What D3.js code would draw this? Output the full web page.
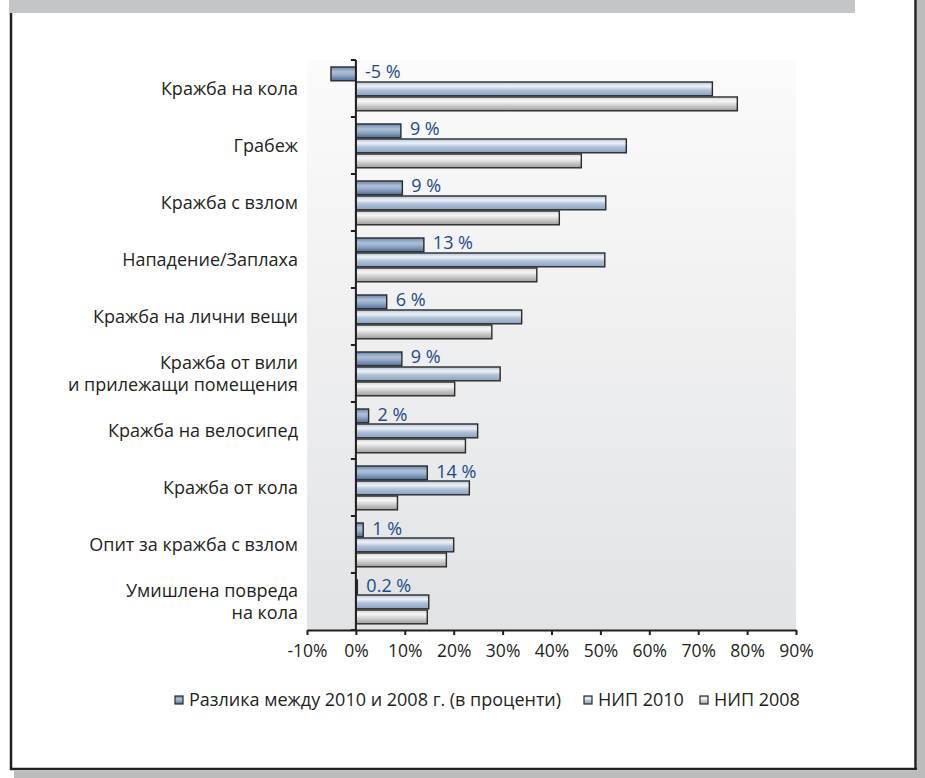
<!DOCTYPE html>
<html>
<head>
<meta charset="utf-8">
<script src="https://cdn.jsdelivr.net/npm/d3@7"></script>
<style>
  html, body { margin: 0; padding: 0; background: #ffffff; }
  svg { display: block; }
  text { font-family: "Open Sans", "Noto Sans", sans-serif; }
</style>
</head>
<body>
<svg id="chart" width="925" height="778"></svg>
<script>
// ---- data ----
const categories = [
  ["Кражба на кола"],
  ["Грабеж"],
  ["Кражба с взлом"],
  ["Нападение/Заплаха"],
  ["Кражба на лични вещи"],
  ["Кражба от вили", "и прилежащи помещения"],
  ["Кражба на велосипед"],
  ["Кражба от кола"],
  ["Опит за кражба с взлом"],
  ["Умишлена повреда", "на кола"]
];
const seriesNames = ["Разлика между 2010 и 2008 г. (в проценти)", "НИП 2010", "НИП 2008"];
const diffValues = [-5.1, 9.2, 9.5, 13.9, 6.3, 9.4, 2.6, 14.6, 1.5, 0.3];
const diffLabels = ["-5 %", "9 %", "9 %", "13 %", "6 %", "9 %", "2 %", "14 %", "1 %", "0.2 %"];
const nip2010 = [72.9, 55.3, 51.1, 50.9, 33.9, 29.5, 24.9, 23.2, 20.0, 14.9];
const nip2008 = [78.0, 46.1, 41.6, 37.0, 27.8, 20.2, 22.4, 8.5, 18.5, 14.6];
const xTicks = [-10, 0, 10, 20, 30, 40, 50, 60, 70, 80, 90];

// ---- layout ----
const svg = d3.select("#chart");
const plot = { left: 307, right: 796, top: 60, bottom: 630 };
const catKeys = categories.map((c, i) => i);

const x = d3.scaleLinear().domain([-10, 90]).range([plot.left, plot.right]);
const y = d3.scaleBand().domain(catKeys).range([plot.top, plot.bottom])
  .paddingInner(0.2105).paddingOuter(0.105);
const sub = d3.scaleBand().domain([0, 1, 2]).range([0, y.bandwidth()]);

const defs = svg.append("defs");
function grad(id, stops) {
  const g = defs.append("linearGradient").attr("id", id)
    .attr("x1", 0).attr("y1", 0).attr("x2", 0).attr("y2", 1);
  stops.forEach(s => g.append("stop").attr("offset", s[0]).attr("stop-color", s[1]));
}
grad("gDiff", [[0, "#6886ad"], [0.35, "#adc0d7"], [0.55, "#9bb0cb"], [1, "#4f6e97"]]);
grad("g2010", [[0, "#b3c4da"], [0.3, "#eef2f7"], [0.6, "#adc0d6"], [1, "#8aa3c2"]]);
grad("g2008", [[0, "#d3d3d3"], [0.3, "#f7f7f7"], [0.65, "#cacaca"], [1, "#9c9c9c"]]);
grad("gPlot", [[0, "#fbfbfb"], [1, "#e2e3e5"]]);
const fills = ["url(#gDiff)", "url(#g2010)", "url(#g2008)"];

// ---- frame ----
svg.append("rect").attr("x", 9).attr("y", 0).attr("width", 846).attr("height", 13).attr("fill", "#c4c5c7");
svg.append("rect").attr("x", 917).attr("y", 0).attr("width", 8).attr("height", 778).attr("fill", "#bcbcbc");
svg.append("rect").attr("x", 14).attr("y", 771).attr("width", 911).attr("height", 7).attr("fill", "#bcbcbc");
svg.append("line").attr("x1", 11).attr("x2", 11).attr("y1", 13).attr("y2", 770)
  .attr("stroke", "#231f20").attr("stroke-width", 2.5);
svg.append("line").attr("x1", 915.5).attr("x2", 915.5).attr("y1", 0).attr("y2", 770)
  .attr("stroke", "#231f20").attr("stroke-width", 2.5);
svg.append("line").attr("x1", 10).attr("x2", 917).attr("y1", 769).attr("y2", 769)
  .attr("stroke", "#231f20").attr("stroke-width", 2.5);

// ---- plot background ----
svg.append("rect").attr("x", plot.left).attr("y", plot.top)
  .attr("width", plot.right - plot.left).attr("height", plot.bottom - plot.top)
  .attr("fill", "url(#gPlot)");

// ---- bars ----
const seriesData = [diffValues, nip2010, nip2008];
const gBars = svg.append("g");
seriesData.forEach((vals, s) => {
  gBars.selectAll(null).data(vals).join("rect")
    .attr("x", d => x(Math.min(0, d)))
    .attr("y", (d, i) => y(i) + sub(s) + 1)
    .attr("width", d => Math.abs(x(d) - x(0)))
    .attr("height", sub.bandwidth() - 1.2)
    .attr("fill", fills[s])
    .attr("stroke", "#2a2a2a")
    .attr("stroke-width", 1.4);
});

// ---- diff labels ----
svg.append("g").selectAll("text").data(diffValues).join("text")
  .attr("x", d => x(Math.max(0, d)) + 9)
  .attr("y", (d, i) => y(i) + sub(0) + 12.5)
  .attr("fill", "#1b4a8a")
  .attr("font-size", 18)
  .text((d, i) => diffLabels[i]);

// ---- axes ----
const xAxis = d3.axisBottom(x).tickValues(xTicks).tickFormat(d => d + "%")
  .tickSize(5).tickSizeOuter(0).tickPadding(10);
const gx = svg.append("g").attr("transform", `translate(0,${plot.bottom})`).call(xAxis);
gx.select(".domain").attr("stroke", "#231f20").attr("stroke-width", 2);
gx.selectAll(".tick line").attr("stroke", "#231f20").attr("stroke-width", 2);
gx.selectAll(".tick text").attr("fill", "#231f20").attr("font-size", 17.5)
  .attr("font-family", "'Open Sans', sans-serif");

// y axis line at zero with category boundary ticks
const gy = svg.append("g");
gy.append("line").attr("x1", x(0)).attr("x2", x(0))
  .attr("y1", plot.top).attr("y2", plot.bottom)
  .attr("stroke", "#231f20").attr("stroke-width", 2);
const boundaries = d3.range(categories.length + 1).map(i => plot.top + i * y.step());
gy.selectAll(".bt").data(boundaries).join("line")
  .attr("x1", x(0) - 5).attr("x2", x(0))
  .attr("y1", d => d).attr("y2", d => d)
  .attr("stroke", "#231f20").attr("stroke-width", 2);

// category labels
const gl = svg.append("g");
categories.forEach((lines, i) => {
  const cy = y(i) + y.bandwidth() / 2;
  const lh = 22;
  const t = gl.append("text")
    .attr("text-anchor", "end")
    .attr("font-size", 18)
    .attr("fill", "#231f20");
  lines.forEach((ln, j) => {
    t.append("tspan")
      .attr("x", 298)
      .attr("y", cy + 6.5 + (j - (lines.length - 1) / 2) * lh)
      .text(ln);
  });
});

// ---- legend ----
const legendX = [175, 584, 700];
const lg = svg.append("g");
seriesNames.forEach((name, s) => {
  lg.append("rect").attr("x", legendX[s]).attr("y", 696)
    .attr("width", 8).attr("height", 8)
    .attr("fill", fills[s]).attr("stroke", "#2a2a2a").attr("stroke-width", 1.2);
  lg.append("text").attr("x", legendX[s] + 14).attr("y", 706)
    .attr("font-size", 18).attr("fill", "#231f20").text(name);
});
</script>
</body>
</html>
